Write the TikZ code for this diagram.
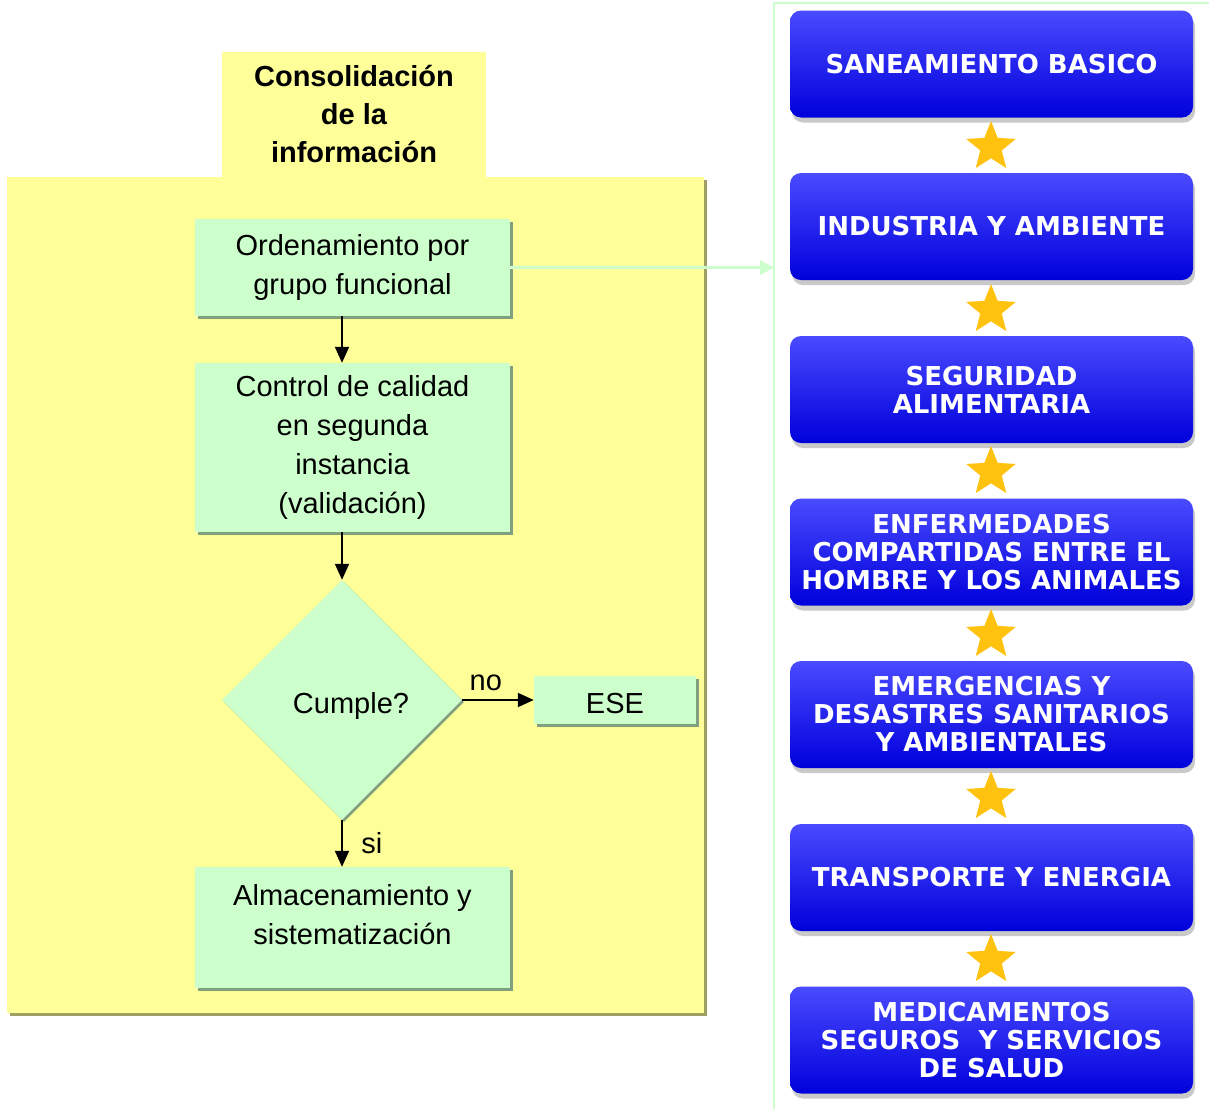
\documentclass[tikz,border=0pt]{standalone}
\usepackage{fontspec}
\setmainfont{Liberation Sans}
\newfontfamily\verdfont{DejaVu Sans}
\usetikzlibrary{shapes.geometric,arrows.meta,shadows}

\definecolor{amarillo}{HTML}{FFFF99}
\definecolor{amarillosombra}{HTML}{A0A064}
\definecolor{verdeclaro}{HTML}{CCFFCC}
\definecolor{verdesombra}{HTML}{80A080}
\definecolor{azulclaro}{HTML}{4A4AFF}
\definecolor{azul}{HTML}{0000F4}
\definecolor{oro}{HTML}{FFC20E}

\begin{document}
\begin{tikzpicture}[x=1pt,y=-1pt,
	gbox/.style={fill=verdeclaro, inner sep=0pt, align=center,
		font=\fontsize{29}{39}\selectfont,
		drop shadow={shadow xshift=3pt,shadow yshift=-3pt,fill=verdesombra,opacity=1}},
	bbox/.style={rounded corners=11pt, top color=azulclaro, middle color=azul, bottom color=azul!90!black,
		minimum width=403pt, minimum height=107pt, inner sep=0pt, align=center, text=white,
		font=\verdfont\bfseries\fontsize{26}{28}\selectfont,
		drop shadow={shadow xshift=2pt,shadow yshift=-5pt,opacity=0.35,fill=black!60}},
	estrella/.style={star, star points=5, star point ratio=2.3, fill=oro, inner sep=0pt, minimum size=52pt},
	flecha/.style={line width=2pt, -{Triangle[length=16pt,width=14pt]}}]
	\useasboundingbox (0,0) rectangle (1209,1109);
	\fill[white] (0,0) rectangle (1209,1109);

	% left panel
	\node[fill=amarillo, minimum width=264pt, minimum height=125pt, inner sep=0pt, align=center,
		font=\bfseries\fontsize{29}{38}\selectfont] (titulo) at (354,114.5) {Consolidación\\de la\\información};
	\fill[amarillosombra] (10,180) rectangle (707,1016);
	\fill[amarillo] (7,177) rectangle (704,1013);

	\node[gbox, minimum width=315pt, minimum height=97pt] (orden) at (352.5,267.5) {Ordenamiento por\\grupo funcional};
	\node[gbox, minimum width=315pt, minimum height=169pt] (control) at (352.5,447.5) {Control de calidad\\en segunda\\instancia\\(validación)};
	\node[diamond, fill=verdeclaro, inner sep=0pt, minimum width=240pt, minimum height=240pt,
		font=\fontsize{29}{39}\selectfont,
		drop shadow={shadow xshift=2pt,shadow yshift=-2pt,fill=verdesombra,opacity=1}] (cumple) at (342,700) {\hspace*{18pt}\raisebox{-6pt}[\height][\depth]{Cumple?}};
	\node[gbox, minimum width=162pt, minimum height=48pt] (ese) at (615,700) {\raisebox{-4pt}[\height][\depth]{ESE}};
	\node[gbox, minimum width=315pt, minimum height=121pt] (almac) at (352.5,927.5) {Almacenamiento y\\sistematización\\[-13pt]\mbox{}};

	\draw[flecha] (orden.south -| cumple.north) -- (control.north -| cumple.north);
	\draw[flecha] (control.south -| cumple.north) -- (cumple.north);
	\draw[flecha] (cumple.east) -- node[above, font=\fontsize{29}{39}\selectfont, pos=0.33, yshift=5pt] {no} (ese.west);
	\draw[flecha] (cumple.south) -- node[right, font=\fontsize{29}{39}\selectfont, xshift=15pt, yshift=0pt] {si} (cumple.south |- almac.north);

	% right panel
	\draw[verdeclaro, line width=2pt] (774,1109) -- (774,3) -- (1209,3);
	\coordinate (marco) at (774,267.5);
	\draw[verdeclaro, line width=3pt, -{Triangle[length=14pt,width=14pt]}] (orden.east) -- (marco);

	\foreach \yc/\nm/\txt in {64/san/{SANEAMIENTO BASICO}, 226.5/ind/{INDUSTRIA Y AMBIENTE},
		389.5/seg/{SEGURIDAD\\ALIMENTARIA}, 552/enf/{ENFERMEDADES\\COMPARTIDAS ENTRE EL\\HOMBRE Y LOS ANIMALES},
		714.5/eme/{EMERGENCIAS Y\\DESASTRES SANITARIOS\\Y AMBIENTALES}, 877.5/tra/{TRANSPORTE Y ENERGIA},
		1040/med/{MEDICAMENTOS\\SEGUROS \ Y SERVICIOS\\DE SALUD}}
		\node[bbox] (\nm) at (991.5,\yc) {\txt};

	\foreach \ys [count=\i] in {147,310,472,635,797,960}
		\node[estrella] (estrella\i) at (991,\ys) {};
\end{tikzpicture}
\end{document}
